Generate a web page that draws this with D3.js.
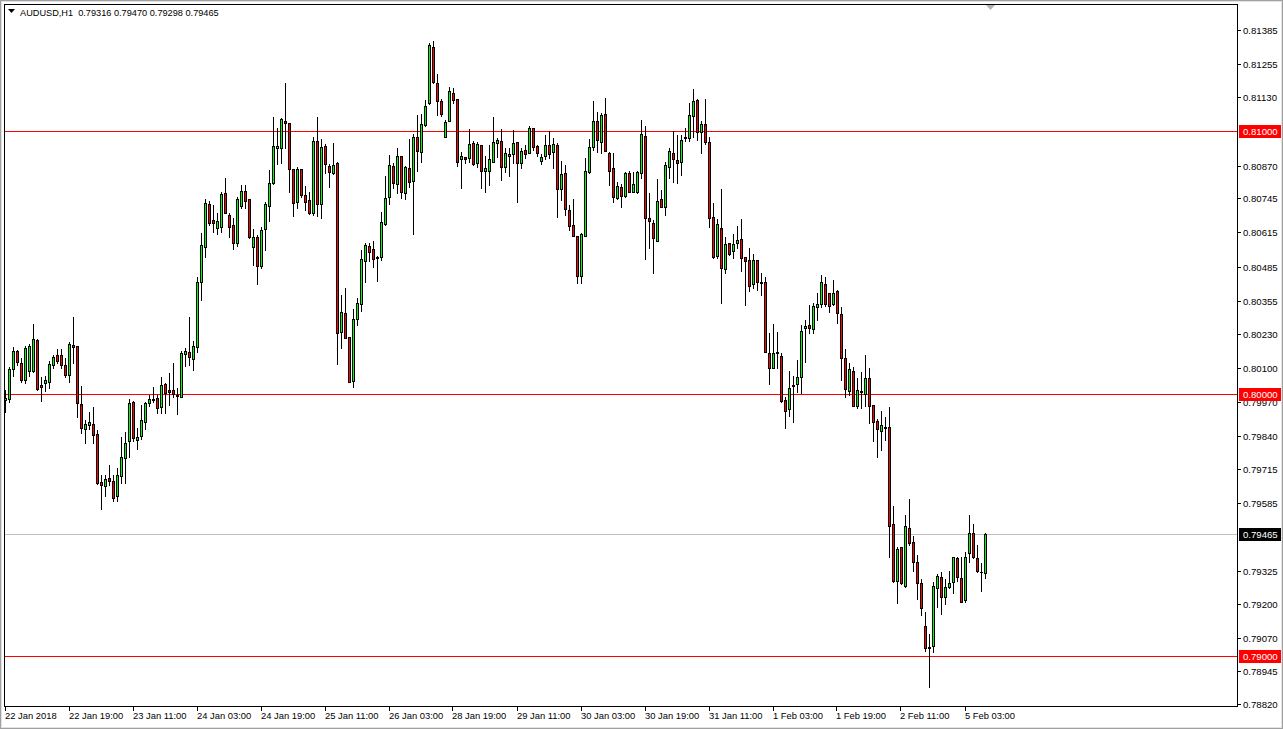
<!DOCTYPE html>
<html><head><meta charset="utf-8">
<script src="https://cdn.jsdelivr.net/npm/d3@7"></script>
<style>html,body{margin:0;padding:0;background:#fff;overflow:hidden}svg{display:block}</style>
</head><body><svg id="c" width="1283" height="729"></svg>
<script>
const symbol = "AUDUSD,H1";
const open = [0.79977,0.79981,0.80095,0.80163,0.80118,0.80053,0.80087,0.80087,0.80205,0.80034,0.80042,0.80045,0.80110,0.80148,0.80148,0.80110,0.80072,0.80186,0.80182,0.79962,0.79867,0.79882,0.79886,0.79848,0.79665,0.79650,0.79681,0.79669,0.79612,0.79688,0.79757,0.79821,0.79969,0.79825,0.79840,0.79893,0.79966,0.79977,0.79985,0.79950,0.80038,0.80015,0.80015,0.79996,0.79988,0.80152,0.80159,0.80133,0.80178,0.80425,0.80558,0.80723,0.80662,0.80632,0.80635,0.80765,0.80681,0.80643,0.80574,0.80715,0.80772,0.80742,0.80558,0.80596,0.80486,0.80628,0.80715,0.80803,0.80936,0.80936,0.81038,0.81031,0.80856,0.80730,0.80856,0.80757,0.80738,0.80689,0.80962,0.80723,0.80943,0.80867,0.80841,0.80879,0.80235,0.80308,0.80216,0.80049,0.80285,0.80342,0.80505,0.80562,0.80551,0.80517,0.80520,0.80647,0.80749,0.80867,0.80799,0.80905,0.80765,0.80860,0.80810,0.80977,0.80920,0.81023,0.81107,0.81323,0.81186,0.81114,0.80977,0.81038,0.81148,0.81122,0.80894,0.80901,0.80898,0.80955,0.80879,0.80947,0.80848,0.80848,0.80882,0.80955,0.80962,0.80863,0.80905,0.80913,0.80958,0.80879,0.80928,0.80917,0.81012,0.80943,0.80886,0.80905,0.80947,0.80920,0.80947,0.80780,0.80841,0.80700,0.80643,0.80600,0.80448,0.80600,0.80844,0.80939,0.81038,0.80958,0.81065,0.80917,0.80860,0.80746,0.80787,0.80753,0.80841,0.80768,0.80768,0.80841,0.80981,0.80670,0.80651,0.80581,0.80742,0.80711,0.80863,0.80917,0.80890,0.80882,0.80974,0.80974,0.81057,0.81118,0.80996,0.81027,0.80958,0.80673,0.80524,0.80632,0.80475,0.80574,0.80543,0.80574,0.80589,0.80520,0.80509,0.80418,0.80509,0.80422,0.80425,0.80156,0.80099,0.80156,0.80144,0.79977,0.79943,0.80030,0.80038,0.80064,0.80251,0.80262,0.80247,0.80330,0.80342,0.80418,0.80384,0.80342,0.80391,0.80304,0.80137,0.80011,0.80087,0.79954,0.80007,0.80000,0.80061,0.79958,0.79897,0.79859,0.79874,0.79874,0.79505,0.79289,0.79418,0.79270,0.79490,0.79437,0.79358,0.79278,0.79114,0.79035,0.79038,0.79262,0.79304,0.79228,0.79266,0.79282,0.79373,0.79300,0.79213,0.79392,0.79471,0.79373,0.79323,0.79316];
const high = [0.80015,0.80102,0.80178,0.80167,0.80137,0.80182,0.80190,0.80266,0.80209,0.80064,0.80068,0.80125,0.80148,0.80171,0.80171,0.80137,0.80197,0.80292,0.80182,0.80030,0.79901,0.79931,0.79950,0.79863,0.79692,0.79692,0.79730,0.79692,0.79719,0.79836,0.79855,0.79981,0.79973,0.79871,0.79958,0.79969,0.79996,0.80026,0.79996,0.80064,0.80042,0.80080,0.80118,0.80023,0.80163,0.80175,0.80292,0.80201,0.80444,0.80612,0.80742,0.80734,0.80719,0.80689,0.80768,0.80822,0.80689,0.80670,0.80749,0.80795,0.80795,0.80742,0.80628,0.80604,0.80635,0.80730,0.80852,0.81053,0.81012,0.81050,0.81183,0.81031,0.80856,0.80863,0.80856,0.80791,0.80768,0.80977,0.81053,0.80970,0.80951,0.80875,0.80955,0.80882,0.80376,0.80403,0.80216,0.80323,0.80365,0.80547,0.80574,0.80574,0.80581,0.80524,0.80692,0.80829,0.80909,0.80879,0.80936,0.80905,0.80867,0.80970,0.80989,0.81061,0.81065,0.81118,0.81338,0.81346,0.81217,0.81122,0.81042,0.81171,0.81167,0.81122,0.80920,0.80901,0.81008,0.80962,0.80958,0.80947,0.80905,0.80947,0.81053,0.80974,0.81008,0.80936,0.80936,0.81004,0.80958,0.80936,0.80947,0.81019,0.81012,0.80947,0.80913,0.80985,0.81000,0.80974,0.80955,0.80886,0.80871,0.80719,0.80742,0.80600,0.80612,0.80898,0.80970,0.81114,0.81072,0.81069,0.81126,0.80920,0.80917,0.80807,0.80799,0.80844,0.80848,0.80844,0.80848,0.81042,0.81019,0.80765,0.80662,0.80818,0.80776,0.80882,0.80936,0.81000,0.80985,0.80985,0.81012,0.81107,0.81160,0.81122,0.81038,0.81122,0.80977,0.80727,0.80666,0.80780,0.80596,0.80574,0.80608,0.80639,0.80666,0.80520,0.80555,0.80532,0.80509,0.80460,0.80444,0.80232,0.80266,0.80235,0.80156,0.79988,0.80087,0.80068,0.80129,0.80262,0.80281,0.80338,0.80346,0.80384,0.80452,0.80444,0.80384,0.80433,0.80395,0.80330,0.80171,0.80118,0.80102,0.80061,0.80083,0.80148,0.80099,0.79958,0.79905,0.79935,0.79912,0.79950,0.79574,0.79418,0.79418,0.79540,0.79601,0.79460,0.79388,0.79293,0.79171,0.79084,0.79282,0.79312,0.79323,0.79293,0.79327,0.79380,0.79380,0.79377,0.79396,0.79540,0.79506,0.79426,0.79354,0.79470];
const low = [0.79931,0.79969,0.80068,0.80110,0.80045,0.80042,0.80068,0.80083,0.80015,0.79973,0.80011,0.80023,0.80099,0.80118,0.80099,0.80064,0.80045,0.80118,0.79912,0.79852,0.79814,0.79867,0.79814,0.79658,0.79563,0.79612,0.79654,0.79593,0.79593,0.79662,0.79662,0.79760,0.79821,0.79791,0.79829,0.79867,0.79954,0.79969,0.79928,0.79928,0.79928,0.79958,0.79988,0.79924,0.79988,0.80106,0.80110,0.80091,0.80159,0.80357,0.80520,0.80643,0.80615,0.80608,0.80615,0.80689,0.80596,0.80551,0.80562,0.80708,0.80708,0.80593,0.80490,0.80418,0.80479,0.80547,0.80658,0.80799,0.80875,0.80879,0.80936,0.80768,0.80677,0.80708,0.80749,0.80700,0.80685,0.80681,0.80677,0.80670,0.80841,0.80787,0.80837,0.80114,0.80175,0.80213,0.80045,0.80026,0.80262,0.80315,0.80425,0.80505,0.80482,0.80429,0.80509,0.80643,0.80723,0.80784,0.80765,0.80746,0.80742,0.80787,0.80608,0.80848,0.80882,0.81019,0.81103,0.81186,0.81061,0.81057,0.80977,0.81038,0.81110,0.80867,0.80784,0.80879,0.80882,0.80871,0.80863,0.80784,0.80768,0.80795,0.80882,0.80901,0.80814,0.80844,0.80829,0.80879,0.80730,0.80860,0.80898,0.80917,0.80928,0.80905,0.80875,0.80894,0.80898,0.80860,0.80673,0.80738,0.80681,0.80623,0.80600,0.80422,0.80422,0.80600,0.80841,0.80928,0.80920,0.80917,0.80924,0.80795,0.80730,0.80742,0.80711,0.80749,0.80768,0.80768,0.80765,0.80822,0.80513,0.80555,0.80460,0.80581,0.80711,0.80681,0.80822,0.80807,0.80803,0.80833,0.80962,0.80962,0.80977,0.80966,0.80917,0.80951,0.80635,0.80517,0.80517,0.80346,0.80460,0.80528,0.80517,0.80555,0.80467,0.80338,0.80392,0.80403,0.80395,0.80376,0.80159,0.80038,0.80099,0.80099,0.79969,0.79871,0.79916,0.79893,0.80007,0.80004,0.80121,0.80232,0.80232,0.80281,0.80330,0.80334,0.80312,0.80338,0.80270,0.80053,0.79988,0.79996,0.79954,0.79947,0.79947,0.79954,0.79890,0.79821,0.79760,0.79787,0.79825,0.79377,0.79285,0.79205,0.79274,0.79266,0.79426,0.79327,0.79217,0.79156,0.79019,0.78882,0.79015,0.79190,0.79160,0.79198,0.79262,0.79240,0.79289,0.79209,0.79209,0.79361,0.79373,0.79320,0.79251,0.79298];
const close = [0.79985,0.80095,0.80163,0.80121,0.80053,0.80175,0.80182,0.80209,0.80019,0.80026,0.80053,0.80114,0.80140,0.80125,0.80110,0.80072,0.80190,0.80178,0.79966,0.79871,0.79886,0.79893,0.79844,0.79662,0.79654,0.79677,0.79669,0.79605,0.79692,0.79760,0.79814,0.79966,0.79833,0.79836,0.79901,0.79966,0.79981,0.79979,0.79947,0.80034,0.80004,0.80007,0.80000,0.79992,0.80156,0.80163,0.80140,0.80182,0.80425,0.80566,0.80727,0.80651,0.80651,0.80658,0.80761,0.80689,0.80635,0.80574,0.80742,0.80772,0.80734,0.80596,0.80596,0.80486,0.80623,0.80723,0.80803,0.80943,0.80943,0.81046,0.81031,0.80856,0.80727,0.80856,0.80757,0.80730,0.80689,0.80962,0.80723,0.80939,0.80875,0.80844,0.80871,0.80232,0.80311,0.80213,0.80045,0.80285,0.80346,0.80513,0.80566,0.80539,0.80513,0.80520,0.80654,0.80746,0.80871,0.80803,0.80905,0.80768,0.80863,0.80807,0.80977,0.80924,0.81027,0.81095,0.81331,0.81190,0.81114,0.81065,0.81034,0.81152,0.81118,0.80882,0.80905,0.80894,0.80951,0.80875,0.80951,0.80848,0.80860,0.80894,0.80958,0.80966,0.80863,0.80917,0.80913,0.80955,0.80879,0.80924,0.80913,0.81012,0.80939,0.80917,0.80901,0.80947,0.80913,0.80951,0.80780,0.80837,0.80704,0.80639,0.80600,0.80448,0.80608,0.80848,0.80939,0.81038,0.80966,0.81061,0.80924,0.80848,0.80749,0.80791,0.80753,0.80841,0.80768,0.80799,0.80844,0.80989,0.80670,0.80658,0.80593,0.80734,0.80711,0.80871,0.80924,0.80894,0.80879,0.80966,0.80977,0.81061,0.81114,0.80996,0.81027,0.80958,0.80670,0.80520,0.80647,0.80479,0.80570,0.80532,0.80570,0.80585,0.80517,0.80505,0.80410,0.80509,0.80425,0.80425,0.80159,0.80099,0.80156,0.80159,0.79973,0.79935,0.80023,0.80034,0.80064,0.80239,0.80258,0.80251,0.80334,0.80342,0.80425,0.80342,0.80334,0.80384,0.80308,0.80137,0.80019,0.80095,0.79954,0.80015,0.80011,0.80061,0.79954,0.79893,0.79867,0.79882,0.79871,0.79498,0.79289,0.79411,0.79278,0.79498,0.79433,0.79361,0.79278,0.79183,0.79031,0.79031,0.79270,0.79308,0.79228,0.79266,0.79278,0.79377,0.79304,0.79209,0.79380,0.79471,0.79377,0.79327,0.79320,0.79465];

const timeLabels = ["22 Jan 2018","22 Jan 19:00","23 Jan 11:00","24 Jan 03:00","24 Jan 19:00","25 Jan 11:00","26 Jan 03:00","28 Jan 19:00","29 Jan 11:00","30 Jan 03:00","30 Jan 19:00","31 Jan 11:00","1 Feb 03:00","1 Feb 19:00","2 Feb 11:00","5 Feb 03:00"];
const timeLabelBars = [0,16,32,48,64,80,96,112,128,144,160,176,192,208,224,240];
const priceTicks = [0.81385,0.81255,0.81130,0.80870,0.80745,0.80615,0.80485,0.80355,0.80230,0.80100,0.79970,0.79840,0.79715,0.79585,0.79325,0.79200,0.79070,0.78945,0.78820];
const levelLines = [0.81000,0.80000,0.79000];
const bidPrice = 0.79465;

const svg = d3.select("#c");
const FONT = "'Liberation Sans', Arial, sans-serif";
const plot = {l:4, t:4, r:1237, b:706};

const x = d3.scaleLinear().domain([0, 245]).range([5.5, 985.5]);
const y = d3.scaleLinear().domain([0.78811, 0.814853]).range([plot.b, plot.t]);

// window border
svg.append("rect").attr("x",0).attr("y",0).attr("width",1283).attr("height",729).attr("fill","#fff");
svg.append("rect").attr("x",0.5).attr("y",0.5).attr("width",1282).attr("height",728)
  .attr("fill","none").attr("stroke","#a0a0a0").attr("stroke-width",1);
svg.append("rect").attr("x",1.5).attr("y",1.5).attr("width",1280).attr("height",726)
  .attr("fill","none").attr("stroke","#e3e3e3").attr("stroke-width",1);

svg.append("clipPath").attr("id","pc").append("rect")
  .attr("x",plot.l+1).attr("y",plot.t+1).attr("width",plot.r-plot.l-1).attr("height",plot.b-plot.t-1);
const g = svg.append("g").attr("clip-path","url(#pc)");

// bid line
g.append("line").attr("x1",plot.l).attr("x2",plot.r)
  .attr("y1",Math.round(y(bidPrice))+0.5).attr("y2",Math.round(y(bidPrice))+0.5)
  .attr("stroke","#c0c0c0").attr("stroke-width",1);

// level lines
g.selectAll("line.lvl").data(levelLines).join("line").attr("class","lvl")
  .attr("x1",plot.l).attr("x2",plot.r)
  .attr("y1",d=>Math.round(y(d))+0.5).attr("y2",d=>Math.round(y(d))+0.5)
  .attr("stroke","#ff0000").attr("stroke-width",1);

// candles
const bars = d3.range(open.length).map(i=>({i,o:open[i],h:high[i],l:low[i],c:close[i]}));
const cg = g.append("g");
bars.forEach(d=>{
  const cx = x(d.i);
  const yh = Math.round(y(d.h)), yl = Math.round(y(d.l));
  cg.append("rect").attr("x",cx-0.5).attr("y",yh).attr("width",1).attr("height",Math.max(1,yl-yh+1)).attr("fill","#000");
  const yt = Math.round(y(Math.max(d.o,d.c))), yb = Math.round(y(Math.min(d.o,d.c)));
  const hh = Math.max(1, yb-yt+1);
  cg.append("rect").attr("x",cx-1.5).attr("y",yt).attr("width",3).attr("height",hh).attr("fill","#000");
  if (hh>2 && d.c!==d.o) {
    cg.append("rect").attr("x",cx-0.5).attr("y",yt+1).attr("width",1).attr("height",hh-2)
      .attr("fill", d.c>d.o ? "#00ff00" : "#ff0000");
  }
});

// plot frame
svg.append("rect").attr("x",plot.l+0.5).attr("y",plot.t+0.5).attr("width",plot.r-plot.l).attr("height",plot.b-plot.t)
  .attr("fill","none").attr("stroke","#000").attr("stroke-width",1);

// chart shift marker
svg.append("path").attr("d","M986,5 L995,5 L990.5,10 Z").attr("fill","#b4b4b4");

// price axis
const ax = svg.append("g");
priceTicks.forEach(v=>{
  const yy = Math.round(y(v));
  ax.append("line").attr("x1",plot.r+1).attr("x2",plot.r+4).attr("y1",yy+0.5).attr("y2",yy+0.5).attr("stroke","#000");
  ax.append("text").attr("x",plot.r+6).attr("y",yy+4).attr("font-family",FONT).attr("font-size",9.6).attr("fill","#000").text(v.toFixed(5));
});
function tag(v, bg){
  const yy = Math.round(y(v));
  ax.append("rect").attr("x",plot.r+2).attr("y",yy-6).attr("width",42).attr("height",13).attr("fill",bg);
  ax.append("text").attr("x",plot.r+6).attr("y",yy+4).attr("font-family",FONT).attr("font-size",9.6).attr("fill","#fff").text(v.toFixed(5));
}
levelLines.forEach(v=>tag(v,"#ff0000"));
tag(bidPrice,"#000");

// time axis
timeLabelBars.forEach((b,k)=>{
  const xx = Math.round(x(b));
  ax.append("line").attr("x1",xx-0.5).attr("x2",xx-0.5).attr("y1",plot.b+1).attr("y2",plot.b+5).attr("stroke","#000");
  ax.append("text").attr("x",xx-1).attr("y",plot.b+13).attr("font-family",FONT).attr("font-size",9.4).attr("fill","#000").text(timeLabels[k]);
});

// header
svg.append("path").attr("d","M8,9 L15,9 L11.5,13 Z").attr("fill","#000");
const last = open.length-1;
svg.append("text").attr("x",20).attr("y",16).attr("font-family",FONT).attr("font-size",9.2).attr("fill","#000")
  .attr("xml:space","preserve")
  .text(`${symbol}  ${open[last].toFixed(5)} ${high[last].toFixed(5)} ${low[last].toFixed(5)} ${close[last].toFixed(5)}`);
</script></body></html>
